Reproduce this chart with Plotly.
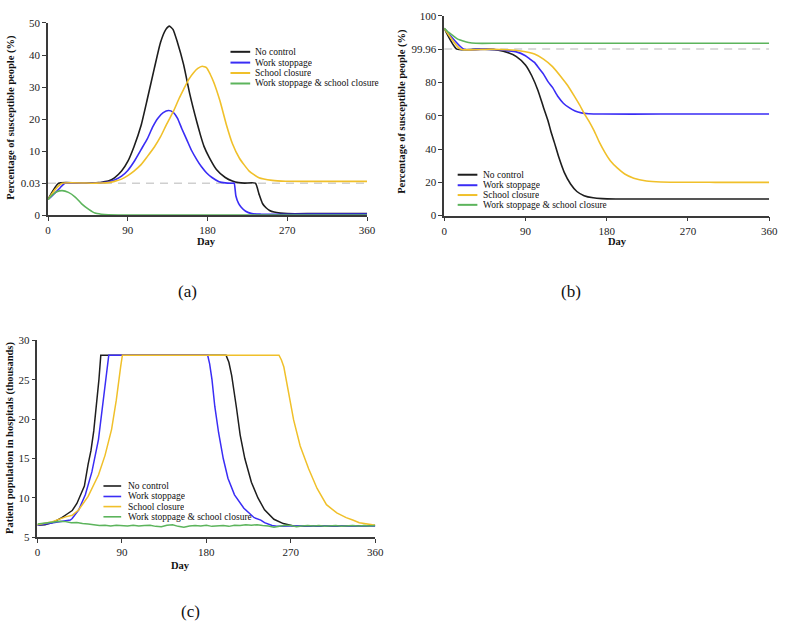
import numpy as np
import plotly.graph_objects as go

# ---------------- data ----------------
# Panel (a): broken axis 0..0.03 | 0.03..50
a_breaks = [0, 0.03, 10, 20, 30, 40, 50]
a_tick_text = ["0", "0.03", "10", "20", "30", "40", "50"]
a_threshold = 0.03

a_nc_day = [0, 12, 40, 50, 57, 62, 68, 75, 83, 90, 97, 105, 112, 120, 127, 133, 137, 141, 146, 153, 160, 168,
            172, 176, 182, 190, 200, 208, 215, 222, 234, 238, 242, 246, 250, 255, 262, 270, 300, 360]
a_nc_val = [0.0147, 0.03, 0.03, 0.08, 0.2, 0.4, 0.7, 1.7, 3.8, 6.8, 11.4, 18.0, 26.2, 35.9, 44.0, 48.0, 49.0,
            48.0, 44.0, 37.0, 27.8, 19.0, 15.0, 11.5, 8.0, 4.3, 1.8, 0.7, 0.2, 0.05, 0.03, 0.02, 0.011, 0.007,
            0.0045, 0.003, 0.002, 0.0015, 0.0015, 0.0015]

a_ws_day = [0, 8, 14, 19, 40, 55, 62, 68, 75, 83, 90, 97, 105, 112, 118, 124, 130, 136, 141, 146, 151, 157, 162,
            168, 173, 179, 185, 193, 200, 208, 210, 212, 215, 218, 223, 230, 240, 300, 360]
a_ws_val = [0.0147, 0.021, 0.026, 0.03, 0.03, 0.08, 0.2, 0.4, 1.0, 2.2, 4.0, 6.7, 10.5, 13.8, 17.5, 20.3, 22.0,
            22.7, 22.2, 20.3, 17.0, 13.3, 10.2, 7.3, 5.2, 3.2, 1.8, 0.5, 0.12, 0.03, 0.03, 0.018, 0.011, 0.0075,
            0.0037, 0.0015, 0.001, 0.001, 0.001]

a_sc_day = [0, 8, 16, 50, 60, 68, 75, 83, 90, 97, 105, 112, 120, 127, 134, 142, 148, 153, 159, 164, 169, 174,
            179, 183, 187, 194, 201, 208, 216, 227, 238, 253, 268, 300, 330, 360]
a_sc_val = [0.0147, 0.024, 0.03, 0.03, 0.08, 0.2, 0.6, 1.3, 2.4, 3.8, 5.8, 8.3, 11.3, 14.5, 18.5, 22.7, 26.5,
            29.3, 32.5, 34.4, 35.8, 36.5, 36.0, 34.0, 31.5, 25.7, 18.5, 12.4, 7.8, 3.8, 1.7, 0.9, 0.65, 0.6, 0.6,
            0.6]

a_wsc_day = [0, 5, 10, 16, 23, 31, 38, 46, 53, 60, 68, 80, 120, 180, 240, 300, 360]
a_wsc_val = [0.0147, 0.019, 0.022, 0.023, 0.0214, 0.0168, 0.0107, 0.0055, 0.002, 0.0009, 0.0003, 0.0002, 0.0002,
             0.0002, 0.0002, 0.0002, 0.0002]

# Panel (b): broken axis 0..99.96 | 99.96..100
b_breaks = [0, 20, 40, 60, 80, 99.96, 100]
b_tick_text = ["0", "20", "40", "60", "80", "99.96", "100"]
b_threshold = 99.96

b_nc_day = [0, 14, 40, 50, 60, 70, 80, 90, 97, 104, 110, 115, 118, 122, 127, 133, 140, 147, 155, 165, 175, 190,
            240, 300, 360]
b_nc_val = [99.985, 99.96, 99.9, 99.8, 99.3, 98.0, 95.5, 90.5, 84.0, 75.0, 65.0, 57.0, 51.0, 44.0, 35.0, 26.0,
            19.0, 14.5, 12.0, 10.7, 10.2, 10.0, 10.0, 10.0, 10.0]

b_ws_day = [0, 21.6, 45, 60, 70, 80, 90, 95, 100, 105, 110, 115, 120, 126, 132, 138, 145, 152, 160, 175, 240,
            300, 360]
b_ws_val = [99.985, 99.96, 99.9, 99.6, 99.0, 98.3, 96.0, 94.0, 92.0, 88.5, 85.0, 80.5, 77.0, 71.5, 67.5, 65.0,
            62.8, 61.7, 61.2, 61.0, 61.0, 61.0, 61.0]

b_sc_day = [0, 18, 50, 70, 85, 100, 110, 120, 130, 137, 145, 150, 155, 160, 166, 172, 178, 184, 192, 200, 210,
            224, 240, 300, 360]
b_sc_val = [99.985, 99.96, 99.92, 99.6, 98.8, 97.0, 94.0, 89.5, 83.0, 78.0, 71.0, 66.5, 61.5, 57.0, 51.0, 44.0,
            38.0, 33.0, 28.5, 25.0, 22.5, 20.8, 20.2, 20.0, 20.0]

b_wsc_day = [0, 5, 10, 15, 21, 27, 35, 60, 120, 180, 240, 300, 360]
b_wsc_val = [99.985, 99.98, 99.976, 99.972, 99.9698, 99.968, 99.967, 99.967, 99.967, 99.967, 99.967, 99.967,
             99.967]

# Panel (c): patient population in hospitals (thousands)
c_ticks = [5, 10, 15, 20, 25, 30]

c_nc_day = [0, 8, 16, 22, 26, 32, 37, 42, 46, 50, 54, 57, 60, 63, 65.5, 67.5, 201, 204, 207, 212, 216, 221, 228,
            235, 242, 252, 262, 273, 285, 300, 315, 330, 345, 360]
c_nc_val = [6.55, 6.6, 6.87, 7.2, 7.5, 8.0, 8.4, 9.3, 10.5, 11.5, 14.3, 16.0, 18.5, 21.6, 25.0, 28.1, 28.1, 27.2,
            25.5, 21.5, 18.0, 15.0, 12.0, 10.0, 8.5, 7.3, 6.75, 6.45, 6.4, 6.45, 6.4, 6.45, 6.45, 6.5]

c_ws_day = [0, 16, 30, 35, 37, 44, 51, 58, 65, 70, 73, 76, 181.4, 183.5, 186, 189, 193, 198, 203, 210, 220, 231,
            238, 242, 250, 255, 270, 360]
c_ws_val = [6.55, 6.87, 7.15, 7.2, 7.4, 8.5, 10.4, 13.3, 17.4, 22.0, 25.0, 28.1, 28.1, 27.0, 25.0, 21.6, 18.3,
            15.0, 12.5, 10.4, 8.7, 7.5, 7.2, 6.87, 6.5, 6.4, 6.45, 6.45]

c_sc_day = [0, 16, 30, 37, 44, 54, 65, 72, 79, 84, 88.6, 90.5, 257.4, 260, 262.6, 268, 273, 280, 289, 298, 308,
            319, 329, 336, 343, 357, 360]
c_sc_val = [6.6, 7.0, 7.6, 7.8, 8.5, 10.2, 12.9, 15.4, 18.7, 22.4, 26.6, 28.1, 28.1, 27.5, 26.6, 23.2, 19.9,
            16.6, 13.7, 11.2, 9.15, 8.1, 7.5, 7.2, 6.87, 6.6, 6.55]

c_wsc_day = list(range(0, 361, 6))
c_wsc_val = [6.7, 6.8, 6.9, 7.0, 7.05, 7.0, 6.85, 6.9, 6.75, 6.7, 6.6, 6.5, 6.55, 6.45, 6.55, 6.5, 6.45, 6.55,
             6.45, 6.5, 6.55, 6.4, 6.35, 6.55, 6.6, 6.4, 6.3, 6.45, 6.5, 6.45, 6.55, 6.4, 6.45, 6.5, 6.4, 6.55,
             6.5, 6.6, 6.55, 6.6, 6.5, 6.45, 6.3, 6.4, 6.55, 6.5, 6.35, 6.45, 6.5, 6.45, 6.5, 6.4, 6.45, 6.5,
             6.4, 6.45, 6.5, 6.45, 6.5, 6.45, 6.5]

x_ticks = [0, 90, 180, 270, 360]
series_names = ["No control", "Work stoppage", "School closure", "Work stoppage & school closure"]

# ---------------- style ----------------
W, H = 789, 631
COLORS = ["#1e1e1e", "#3a2df5", "#f0c02a", "#5cb45c"]
FONT = "Liberation Serif, Times New Roman, serif"
AXIS_COLOR = "#3a3a3a"

a_disp_axis = np.arange(len(a_breaks)) * 10.0
b_disp_axis = np.array([0, 20, 40, 60, 80, 100, 120], float)


def px(x):
    return x / W


def py(y):
    return 1 - y / H


def a_tr(v):
    return np.interp(np.asarray(v, float), a_breaks, a_disp_axis)


def b_tr(v):
    return np.interp(np.asarray(v, float), b_breaks, b_disp_axis)


fig = go.Figure()

panel_a = [(a_nc_day, a_nc_val), (a_ws_day, a_ws_val), (a_sc_day, a_sc_val), (a_wsc_day, a_wsc_val)]
panel_b = [(b_nc_day, b_nc_val), (b_ws_day, b_ws_val), (b_sc_day, b_sc_val), (b_wsc_day, b_wsc_val)]
panel_c = [(c_nc_day, c_nc_val), (c_ws_day, c_ws_val), (c_sc_day, c_sc_val), (c_wsc_day, c_wsc_val)]

fig.add_trace(go.Scatter(x=[x_ticks[0], x_ticks[-1]], y=a_tr([a_threshold, a_threshold]), mode="lines",
                         line=dict(color="#cfcfcf", width=1.5, dash="8px,6px"), showlegend=False,
                         hoverinfo="skip", xaxis="x", yaxis="y"))
fig.add_trace(go.Scatter(x=[x_ticks[0], x_ticks[-1]], y=b_tr([b_threshold, b_threshold]), mode="lines",
                         line=dict(color="#cfcfcf", width=1.5, dash="8px,6px"), showlegend=False,
                         hoverinfo="skip", xaxis="x2", yaxis="y2"))

for i, (d, v) in enumerate(panel_a):
    fig.add_trace(go.Scatter(x=d, y=a_tr(v), mode="lines", name=series_names[i], showlegend=False,
                             line=dict(color=COLORS[i], width=1.6, shape="spline", smoothing=0.5),
                             xaxis="x", yaxis="y"))
for i, (d, v) in enumerate(panel_b):
    fig.add_trace(go.Scatter(x=d, y=b_tr(v), mode="lines", name=series_names[i], showlegend=False,
                             line=dict(color=COLORS[i], width=1.6, shape="spline", smoothing=0.5),
                             xaxis="x2", yaxis="y2"))
for i, (d, v) in enumerate(panel_c):
    fig.add_trace(go.Scatter(x=d, y=v, mode="lines", name=series_names[i], showlegend=False,
                             line=dict(color=COLORS[i], width=1.5),
                             xaxis="x3", yaxis="y3"))

axis_common = dict(showgrid=False, zeroline=False, showline=True, linecolor=AXIS_COLOR, linewidth=1.5,
                   ticks="outside", ticklen=4, tickwidth=1.2, tickcolor=AXIS_COLOR,
                   tickfont=dict(family=FONT, size=11, color="#222"))

fig.update_layout(
    width=W, height=H, margin=dict(l=0, r=0, t=0, b=0),
    paper_bgcolor="white", plot_bgcolor="white", showlegend=False,
    xaxis=dict(domain=[px(45.7), px(369.7)], range=[0, 360], tickvals=x_ticks, anchor="y", **axis_common),
    yaxis=dict(domain=[py(213.3), py(17.3)], range=[0, 60], tickvals=list(a_disp_axis),
               ticktext=a_tick_text, anchor="x", **axis_common),
    xaxis2=dict(domain=[px(448), px(778)], range=[0, 360], tickvals=x_ticks, anchor="y2", **axis_common),
    yaxis2=dict(domain=[py(213.7), py(10)], range=[0, 120], tickvals=list(b_disp_axis),
                ticktext=b_tick_text, anchor="x2", **axis_common),
    xaxis3=dict(domain=[px(35), px(378)], range=[0, 360], tickvals=x_ticks, anchor="y3", **axis_common),
    yaxis3=dict(domain=[py(541.7), py(340.7)], range=[5, 30], tickvals=c_ticks, anchor="x3", **axis_common),
)

annotations = []
shapes = []


def text(x, y, s, size=10, bold=False, angle=0, xanchor="center", height=None):
    ann = dict(x=px(x), y=py(y), xref="paper", yref="paper", text=f"<b>{s}</b>" if bold else s,
               showarrow=False, textangle=angle, xanchor=xanchor, yanchor="middle", borderpad=0,
               font=dict(family=FONT, size=size, color="#111"))
    if height is not None:
        ann["height"] = height
        ann["valign"] = "middle"
    annotations.append(ann)


ytitle = "Percentage of susceptible people (%)"
text(8, 113, ytitle, size=10.5, bold=True, angle=-90)
text(405, 107, ytitle, size=10.5, bold=True, angle=-90)
text(6.5, 440, "Patient population in hospitals (thousands)", size=10.5, bold=True, angle=-90)
text(207, 240, "Day", size=10.5, bold=True)
text(624, 240, "Day", size=10.5, bold=True)
text(180, 570, "Day", size=10.5, bold=True)
text(187, 291, "(a)", size=17)
text(577, 291, "(b)", size=17)
text(190, 617, "(c)", size=17)


def legend(x0, x1, xt, ys, lw):
    for i, y in enumerate(ys):
        shapes.append(dict(type="line", xref="paper", yref="paper", x0=px(x0), x1=px(x1), y0=py(y), y1=py(y),
                           line=dict(color=COLORS[i], width=lw)))
        text(xt, y, series_names[i], size=9.5, xanchor="left", height=10)


legend(231, 251, 255, [46.7, 57.7, 68.3, 79], 2)
legend(461.7, 481.7, 486, [172, 182.7, 192.7, 202.7], 2)
legend(102, 120, 125.5, [489.3, 500, 510.3, 520.7], 1.6)

fig.update_layout(annotations=annotations, shapes=shapes)
fig.write_html("out.html", config={"displayModeBar": False},
               post_script="document.body.style.margin='0px';document.body.style.overflow='hidden';")
